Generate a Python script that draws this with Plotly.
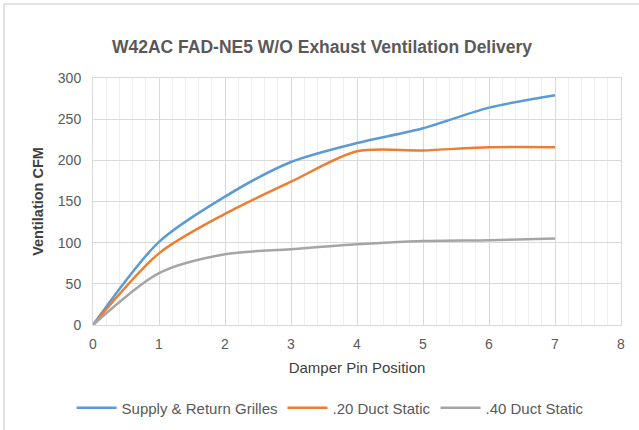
import plotly.graph_objects as go

x_pos = [0, 1, 2, 3, 4, 5, 6, 7]
supply_return = [0, 101, 156, 198, 221, 239, 264, 279]
duct_20 = [0, 87, 135, 174, 211, 212, 216, 216]
duct_40 = [0, 63, 86, 92, 98, 102, 103, 105]

series = [
    ("Supply & Return Grilles", supply_return, "#5B9BD5"),
    (".20 Duct Static", duct_20, "#ED7D31"),
    (".40 Duct Static", duct_40, "#A5A5A5"),
]

fig = go.Figure()
for name, vals, color in series:
    fig.add_trace(go.Scatter(
        x=x_pos, y=vals, name=name, mode="lines",
        line=dict(color=color, width=2.5, shape="spline", smoothing=0.8),
    ))

font_fam = "Liberation Sans, Arial, sans-serif"
fig.update_layout(
    width=639, height=430,
    margin=dict(l=93, r=18, t=78, b=105, autoexpand=False),
    paper_bgcolor="white", plot_bgcolor="white",
    font=dict(family=font_fam, color="#595959", size=14),
    title=dict(text="<b>W42AC FAD-NE5 W/O Exhaust Ventilation Delivery</b>",
               x=0.504, xanchor="center", y=0.891, yanchor="middle",
               font=dict(size=17.5, color="#595959")),
    showlegend=True,
    legend=dict(orientation="h", x=0.449, xanchor="center", y=-0.336, yanchor="middle",
                font=dict(size=15, color="#595959"), itemwidth=40),
    xaxis=dict(
        range=[0, 8], dtick=1, tick0=0, automargin=False,
        showgrid=True, gridcolor="#D9D9D9", gridwidth=1,
        minor=dict(dtick=0.2, showgrid=True, gridcolor="#EFEFEF", gridwidth=1),
        showline=True, linecolor="#D9D9D9", mirror=True, zeroline=False,
        ticks="", ticklabelstandoff=6, tickfont=dict(size=14, color="#595959"),
        title=dict(text="Damper Pin Position", font=dict(size=15, color="#404040"), standoff=11),
    ),
    yaxis=dict(
        range=[0, 300], dtick=50, automargin=False,
        showgrid=True, gridcolor="#D9D9D9", gridwidth=1,
        showline=True, linecolor="#D9D9D9", mirror=True, zeroline=False,
        ticks="", ticklabelstandoff=8, tickfont=dict(size=14, color="#595959"),
        title=dict(text="<b>Ventilation CFM</b>", font=dict(size=14.5, color="#404040"), standoff=10),
    ),
)
fig.add_shape(type="rect", xref="paper", yref="paper",
              x0=-0.1686, x1=1.06, y0=-0.5, y1=1.2996,
              line=dict(color="#D9D9D9", width=1.5))
fig.write_html("out.html", config={"displayModeBar": False},
               post_script="document.body.style.margin='0';")
